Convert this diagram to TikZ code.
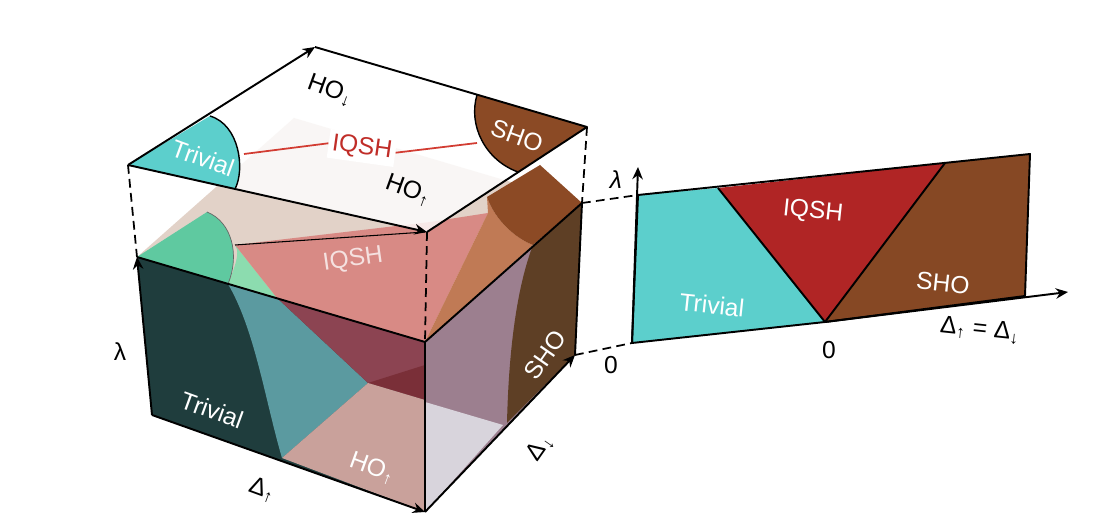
\documentclass[tikz,border=0pt]{standalone}
\usepackage{fontspec}
\setsansfont{Liberation Sans}
\usetikzlibrary{arrows.meta}
\newcommand{\Dup}{Δ\textsubscript{↑}}
\newcommand{\Ddn}{Δ\textsubscript{↓}}
\begin{document}
\begin{tikzpicture}[x=0.02cm,y=-0.02cm,
  lab/.style={font=\sffamily\fontsize{14}{16}\selectfont,inner sep=0pt},
  wlab/.style={lab,text=white},
  edge/.style={line width=1.1pt,line join=round},
  axis/.style={line width=1.1pt,-{Stealth[length=7pt,width=6pt]}},
  dashln/.style={line width=1pt,dash pattern=on 5pt off 3pt}]
\useasboundingbox (0,0) rectangle (1100,526);
% box coordinates
\coordinate (L) at (137,257); \coordinate (F) at (425,342);
\coordinate (R) at (582,203); \coordinate (B) at (294,118);
\coordinate (BL) at (152,415); \coordinate (BF) at (425,512);
\coordinate (BR) at (575,355);
% plane coordinates
\coordinate (PL) at (128,165); \coordinate (PT) at (315,47);
\coordinate (PR) at (587,127); \coordinate (PF) at (427,232);
% right panel
\coordinate (QBL) at (632,343); \coordinate (QTL) at (638,195);
\coordinate (QTR) at (1030,154); \coordinate (QBR) at (1025,296);
\coordinate (Q1) at (718,188); \coordinate (Q2) at (945,163);
\coordinate (Q0) at (825,322);
\coordinate (QY) at (638,167); \coordinate (QX) at (1068,292);
% ---- box faces
\fill[color={rgb,255:red,31;green,61;blue,61}] (L)--(F)--(BF)--(BL)--cycle;
\fill[color={rgb,255:red,91;green,154;blue,160}] (228,284) .. controls (255,330) and (265,400) .. (282,458) -- (368,383) -- (277,298) -- cycle;
\fill[color={rgb,255:red,140;green,68;blue,82}] (277,298)--(368,383)--(425,400)--(F)--cycle;
\fill[color={rgb,255:red,122;green,47;blue,56}] (368,383)--(425,365)--(425,400)--cycle;
\fill[color={rgb,255:red,201;green,161;blue,155}] (282,458)--(368,383)--(425,400)--(BF)--cycle;
\fill[color={rgb,255:red,156;green,127;blue,143}] (F)--(R)--(BR)--(BF)--cycle;
\fill[color={rgb,255:red,94;green,63;blue,37}] (533,245) .. controls (512,300) and (508,380) .. (507,423) -- (BR) -- (R) -- cycle;
\fill[color={rgb,255:red,216;green,212;blue,220}] (425,402)--(503,425)--(BF)--cycle;
% top face
\fill[color={rgb,255:red,226;green,210;blue,200}] (L)--(B)--(R)--(F)--cycle;
\fill[color={rgb,255:red,95;green,201;blue,160}] (L)--(207,212) .. controls (232,222) and (240,255) .. (228,284) -- cycle;
\fill[color={rgb,255:red,140;green,220;blue,175}] (228,284) .. controls (240,255) and (238,250) .. (235,245) -- (277,298) -- cycle;
\fill[color={rgb,255:red,216;green,138;blue,133}] (235,245)--(430,222)--(488,213)--(F)--(277,298)--cycle;
\fill[color={rgb,255:red,192;green,122;blue,85}] (F)--(488,213)--(487,197) .. controls (495,220) and (515,238) .. (533,245) -- cycle;
\fill[color={rgb,255:red,140;green,74;blue,37}] (487,197) .. controls (495,220) and (515,238) .. (533,245) -- (R) -- (540,165) -- cycle;
\draw[line width=0.6pt] (235,245) -- (425,232);
\draw[line width=0.4pt,black!60] (207,212) .. controls (232,222) and (240,255) .. (228,284);
% box edges
\draw[edge] (L)--(F)--(R);
\draw[edge] (F)--(BF);
\draw[edge] (R)--(BR);
\draw[axis] (BL)--(L);
\draw[axis] (BL)--(BF);
\draw[axis] (BF)--(BR);
% ---- top plane
\fill[white,opacity=0.82] (PL)--(PT)--(PR)--(PF)--cycle;
\fill[color={rgb,255:red,92;green,207;blue,204}] (PL)--(210,116) .. controls (240,125) and (245,170) .. (235,189) -- cycle;
\draw[line width=0.8pt] (210,116) .. controls (240,125) and (245,170) .. (235,189);
\fill[color={rgb,255:red,139;green,74;blue,37}] (PR)--(477,95) .. controls (468,125) and (485,160) .. (518,172) -- cycle;
\draw[line width=0.8pt] (477,95) .. controls (468,125) and (485,160) .. (518,172);
\node[lab,text={rgb,255:red,192;green,45;blue,40},fill=white,inner sep=2pt,rotate=-8] (iqshp) at (362,148) {IQSH};
\draw[line width=1pt,color={rgb,255:red,210;green,60;blue,50}] (244,154) -- (iqshp.west);
\draw[line width=1pt,color={rgb,255:red,210;green,60;blue,50}] (iqshp.east) -- (477,143);
\draw[edge] (PT)--(PR)--(PF);
\draw[axis] (PL)--(PT);
\draw[axis] (PL)--(PF);
% dashed
\draw[dashln] (PL)--(L);
\draw[dashln] (PF)--(F);
\draw[dashln] (PR)--(R);
\draw[dashln] (R)--(QTL);
\draw[dashln] (BR)--(QBL);
% plane labels
\node[wlab,rotate=-20] (t1) at (203,158) {Trivial};
\node[wlab,rotate=-20] (s1) at (517,136) {SHO};
\node[lab,rotate=-20] (h1) at (330,90) {HO\textsubscript{↓}};
\node[lab,rotate=-20] (h2) at (408,190) {HO\textsubscript{↑}};
% box labels
\node[lab,text=white,opacity=0.75,rotate=8] (iqb) at (353,260) {IQSH};
\node[wlab,rotate=-20] (t2) at (212,410) {Trivial};
\node[wlab,rotate=-20] (h3) at (372,468) {HO\textsubscript{↑}};
\node[wlab,rotate=55] (s2) at (545,355) {SHO};
\node[lab,rotate=55] (dd) at (540,448) {\Ddn};
\node[lab,rotate=-20] (du) at (262,490) {\Dup};
\node[lab] (lam) at (120,352) {λ};
% ---- right panel
\fill[color={rgb,255:red,92;green,207;blue,204}] (QBL)--(QTL)--(Q1)--(Q0)--cycle;
\fill[color={rgb,255:red,176;green,37;blue,37}] (Q1)--(Q2)--(Q0)--cycle;
\fill[color={rgb,255:red,134;green,72;blue,36}] (Q2)--(QTR)--(QBR)--(Q0)--cycle;
\draw[edge] (QBL)--(QTL)--(QTR)--(QBR)--(Q0)--cycle;
\draw[edge] (Q1)--(Q0)--(Q2);
\draw[axis] (QBL)--(QY);
\draw[axis] (Q0)--(QX);
\node[wlab,rotate=-6] (iq2) at (813,212) {IQSH};
\node[wlab,rotate=-6] (t3) at (712,305) {Trivial};
\node[wlab,rotate=-6] (s3) at (943,283) {SHO};
\node[lab] (lam2) at (616,180) {\itshape λ};
\node[lab] (z1) at (611,365) {0};
\node[lab] (z2) at (829,350) {0};
\node[lab,rotate=-6] (eq) at (980,330) {\Dup\ = \Ddn};
\end{tikzpicture}
\end{document}
